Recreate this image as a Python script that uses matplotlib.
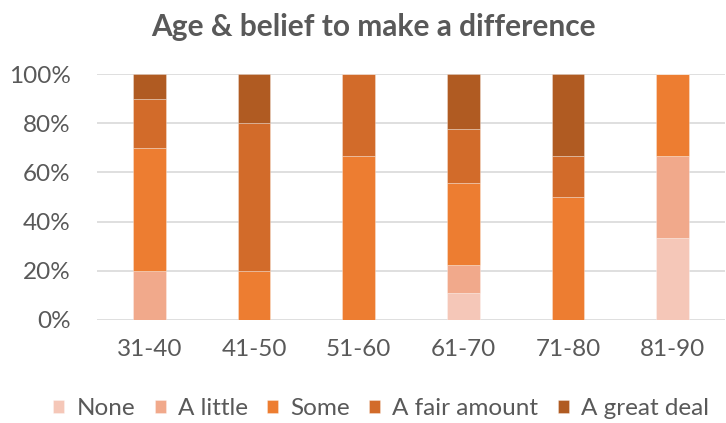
import matplotlib
matplotlib.use("Agg")
import matplotlib.pyplot as plt
from matplotlib.ticker import PercentFormatter
import numpy as np

plt.rcParams['font.family'] = ['Lato', 'DejaVu Sans']

age_groups = ["31-40", "41-50", "51-60", "61-70", "71-80", "81-90"]
levels = ["None", "A little", "Some", "A fair amount", "A great deal"]
none_pct = [0, 0, 0, 11.1, 0, 33.3]
little_pct = [20, 0, 0, 11.1, 0, 33.3]
some_pct = [50, 20, 66.7, 33.3, 50, 33.4]
fair_pct = [20, 60, 33.3, 22.2, 16.7, 0]
great_pct = [10, 20, 0, 22.3, 33.3, 0]
colors = ["#F5C7B8", "#F1A98B", "#ED7D31", "#D26B2A", "#B05B22"]

series = [none_pct, little_pct, some_pct, fair_pct, great_pct]

fig = plt.figure(figsize=(7.26, 4.23), dpi=100)
ax = fig.add_axes([0.1336, 0.2435, 0.8650, 0.5815])

x = np.arange(len(age_groups))
bottom = np.zeros(len(age_groups))
for name, vals, col in zip(levels, series, colors):
    vals = np.array(vals, dtype=float)
    ax.bar(x, vals, 0.31, bottom=bottom, color=col, label=name,
           edgecolor=(1, 1, 1, 0.35), linewidth=0.6, zorder=3)
    bottom += vals

ax.set_ylim(0, 100)
ax.set_xlim(-0.5, len(age_groups) - 0.5)
ax.set_yticks(np.arange(0, 101, 20))
ax.yaxis.set_major_formatter(PercentFormatter(decimals=0))
ax.set_xticks(x)
ax.set_xticklabels(age_groups)
ax.grid(axis='y', color='#D9D9D9', linewidth=1.2, zorder=0)
for s in ax.spines.values():
    s.set_visible(False)
ax.tick_params(axis='both', length=0, labelsize=17.5, labelcolor='#595959')
ax.tick_params(axis='x', pad=14)
ax.tick_params(axis='y', pad=19)

fig.text(0.515, 0.936, "Age & belief to make a difference", ha='center', va='center',
         fontsize=21.5, fontweight='bold', color='#595959')

leg = fig.legend(loc='center', bbox_to_anchor=(0.525, 0.035), ncol=5, frameon=False,
                 fontsize=17.5, handlelength=0.45, handleheight=0.45, handletextpad=0.5,
                 columnspacing=0.8, labelcolor='#595959', borderaxespad=0)

fig.savefig("out.png", dpi=100)
